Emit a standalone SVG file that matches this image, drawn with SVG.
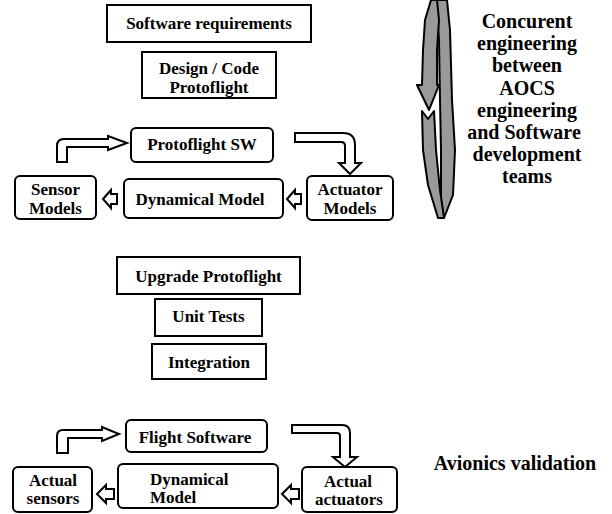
<svg xmlns="http://www.w3.org/2000/svg" width="612" height="514" viewBox="0 0 612 514">
<style>
.box{fill:#fff;stroke:#000;stroke-width:2}
.t{font-family:"Liberation Serif","Times New Roman",serif;font-weight:bold;font-size:17px;fill:#000;text-anchor:middle}
.big{font-size:20px}
.ar{fill:#fff;stroke:#000;stroke-width:2;stroke-linejoin:miter}
.loop{fill:#999;stroke:#000;stroke-width:2;stroke-linejoin:round}
</style>
<rect width="612" height="514" fill="#fff"/>
<g id="n-swreq"><rect class="box" x="107" y="5" width="204" height="37"/><text class="t" x="209" y="29">Software requirements</text></g>
<g id="n-design"><rect class="box" x="142" y="52" width="134" height="46"/><text class="t" x="209" y="74">Design / Code</text><text class="t" x="209" y="93">Protoflight</text></g>
<g id="n-pfsw"><rect class="box" x="131" y="128" width="142" height="34" rx="5"/><text class="t" x="202" y="150">Protoflight SW</text></g>
<g id="n-sensor"><rect class="box" x="15" y="176" width="81" height="43" rx="5"/><text class="t" x="55.5" y="195">Sensor</text><text class="t" x="55.5" y="214">Models</text></g>
<g id="n-dyn1"><rect class="box" x="124" y="179" width="159" height="39" rx="5"/><text class="t" x="200" y="205">Dynamical Model</text></g>
<g id="n-act"><rect class="box" x="307" y="176" width="86" height="44" rx="5"/><text class="t" x="350" y="195">Actuator</text><text class="t" x="350" y="214">Models</text></g>
<g id="n-upgrade"><rect class="box" x="117" y="257" width="183" height="37"/><text class="t" x="208.5" y="282">Upgrade Protoflight</text></g>
<g id="n-unit"><rect class="box" x="155" y="299" width="107" height="37"/><text class="t" x="208.5" y="322">Unit Tests</text></g>
<g id="n-integ"><rect class="box" x="152" y="344" width="114" height="35"/><text class="t" x="209" y="368">Integration</text></g>
<g id="n-flight"><rect class="box" x="126" y="420" width="141" height="32" rx="5"/><text class="t" x="195" y="443">Flight Software</text></g>
<g id="n-asens"><rect class="box" x="13" y="467" width="79" height="45" rx="5"/><text class="t" x="53" y="486">Actual</text><text class="t" x="53" y="504">sensors</text></g>
<g id="n-dyn2"><rect class="box" x="118" y="464" width="160" height="44" rx="5"/><text class="t" x="150" y="485" style="text-anchor:start">Dynamical</text><text class="t" x="150" y="503" style="text-anchor:start">Model</text></g>
<g id="n-aact"><rect class="box" x="302" y="467" width="95" height="45" rx="5"/><text class="t" x="348" y="487">Actual</text><text class="t" x="349" y="505">actuators</text></g>
<g id="concurrent">
<path class="loop" d="M437,0 L447,0 L450,30 L452,100 L455,150 L453,195 L444,218 L441,200 L441,150 L440,100 L439,40 L437,15 Z"/>
<path class="loop" d="M431,0 L437,0 L439,20 L437,50 L437,85 L439,85 L429,110 L417,85 L422,85 L423,50 L425,20 Z"/>
<path class="loop" d="M422,111 L428,119 L434,111 L436,150 L440,190 L444,218 L438,218 L428,185 L423,150 Z"/>
<text class="t big" x="527" y="28">Concurent</text>
<text class="t big" x="527" y="50">engineering</text>
<text class="t big" x="527" y="72">between</text>
<text class="t big" x="527" y="95">AOCS</text>
<text class="t big" x="527" y="117">engineering</text>
<text class="t big" x="524" y="139">and Software</text>
<text class="t big" x="527" y="161">development</text>
<text class="t big" x="527" y="183">teams</text>
</g>
<g id="n-avionics"><text class="t big" x="515" y="470">Avionics validation</text></g>
<g id="connectors">
<path class="ar" d="M57,162 L57,146 Q57,139 64,139 L108,139 L108,136 L127,143 L108,150 L108,147 L67,147 L67,162 Z"/>
<path class="ar" d="M295,133 L343,133 Q355,133 355,145 L355,163 L361,163 L350,174 L339,163 L345,163 L345,146 Q345,142 341,142 L295,142 Z"/>
<path class="ar" d="M103,199 L111,190 L111,194 L117,194 L117,204 L111,204 L111,208 Z"/>
<path class="ar" d="M287,199 L295,190 L295,194 L301,194 L301,204 L295,204 L295,208 Z"/>
<path class="ar" d="M57,453 L57,436 Q57,430 63,430 L102,430 L102,427 L119,434 L102,441 L102,438 L68,438 L68,453 Z"/>
<path class="ar" d="M292,425 L342,425 Q350,425 350,433 L350,457 L357,457 L345,467 L333,457 L340,457 L340,436 Q340,433 337,433 L292,433 Z"/>
<path class="ar" d="M97,494 L106,485 L106,489 L114,489 L114,499 L106,499 L106,503 Z"/>
<path class="ar" d="M282,494 L291,485 L291,489 L299,489 L299,499 L291,499 L291,503 Z"/>
</g>
</svg>
